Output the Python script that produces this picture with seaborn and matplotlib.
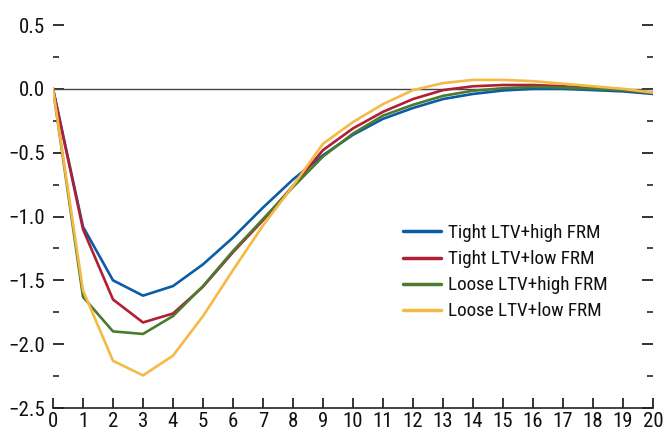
import numpy as np
import pandas as pd
import matplotlib
matplotlib.use("Agg")
import matplotlib.pyplot as plt
import seaborn as sns
from matplotlib import font_manager

# ----------------------------------
# Daten
# ----------------------------------

quartale = list(range(21))

tight_high = [0, -1.08, -1.50, -1.62, -1.545, -1.375, -1.165, -0.93, -0.71, -0.52,
              -0.36, -0.235, -0.15, -0.08, -0.04, -0.013, 0.0, 0.0, -0.01, -0.02, -0.04]
tight_low = [0, -1.10, -1.65, -1.83, -1.76, -1.55, -1.28, -1.03, -0.76, -0.48,
             -0.31, -0.18, -0.08, -0.01, 0.02, 0.03, 0.03, 0.02, 0.005, -0.01, -0.03]
loose_high = [0, -1.63, -1.90, -1.92, -1.78, -1.545, -1.27, -1.02, -0.77, -0.53,
              -0.35, -0.21, -0.125, -0.055, -0.015, 0.005, 0.015, 0.01, 0.0, -0.01, -0.03]
loose_low = [0, -1.58, -2.13, -2.245, -2.09, -1.78, -1.42, -1.07, -0.76, -0.43,
             -0.26, -0.12, -0.01, 0.045, 0.07, 0.07, 0.06, 0.04, 0.02, 0.0, -0.03]

serien = ["Tight LTV+high FRM", "Tight LTV+low FRM", "Loose LTV+high FRM", "Loose LTV+low FRM"]
farben = ["#0B5CA8", "#B01F35", "#4B7B2F", "#F4BA45"]

df = pd.concat([
    pd.DataFrame({"Quartal": quartale, "Wert": werte, "Szenario": name})
    for name, werte in zip(serien, [tight_high, tight_low, loose_high, loose_low])
])

# ----------------------------------
# Schrift
# ----------------------------------

sns.set_style("white")
namen = {f.name for f in font_manager.fontManager.ttflist}
kandidaten = ["Liberation Sans Narrow", "Roboto Condensed", "Liberation Sans", "DejaVu Sans"]
schrift = next(k for k in kandidaten if k in namen or k == "DejaVu Sans")
plt.rcParams["font.family"] = [schrift, "DejaVu Sans"]

# ----------------------------------
# Plot
# ----------------------------------

fig = plt.figure(figsize=(6.64, 4.36), dpi=100)
ax = fig.add_axes([53 / 664, 1 - 408 / 436, 600 / 664, 383 / 436])

ax.axhline(0, color="#444444", lw=1.0, zorder=1)
sns.lineplot(data=df, x="Quartal", y="Wert", hue="Szenario", hue_order=serien,
             palette=farben, lw=1.9, ax=ax, zorder=3)

ax.set_xlim(0, 20)
ax.set_ylim(-2.5, 0.5)
ax.set_xticks(range(21))
ax.set_yticks(np.arange(-2.5, 0.51, 0.5))
ax.set_yticks(np.arange(-2.25, 0.5, 0.5), minor=True)
ax.set_yticklabels([f"{v:.1f}".replace("-", "\u2212") for v in np.arange(-2.5, 0.51, 0.5)])
ax.set_xlabel("")
ax.set_ylabel("")

for s in ["left", "right", "top"]:
    ax.spines[s].set_visible(False)
ax.spines["bottom"].set_color("#222222")
ax.spines["bottom"].set_linewidth(1.2)

ax.tick_params(axis="y", which="major", direction="in", length=8, width=1.2,
               left=True, right=True, pad=6, labelsize=15, colors="#111111")
ax.tick_params(axis="y", which="minor", direction="in", length=4, width=1.2,
               left=True, right=True)
ax.tick_params(axis="x", which="major", direction="in", length=7, width=1.2,
               bottom=True, pad=3, labelsize=15, colors="#111111")

ax.legend(frameon=False, loc="upper left", bbox_to_anchor=(0.57, 0.50),
          fontsize=13.8, handlelength=2.0, handletextpad=0.35, labelspacing=0.42,
          borderaxespad=0, labelcolor="#111111")
for line in ax.get_legend().get_lines():
    line.set_linewidth(2.5)

fig.savefig("out.png", dpi=100)
